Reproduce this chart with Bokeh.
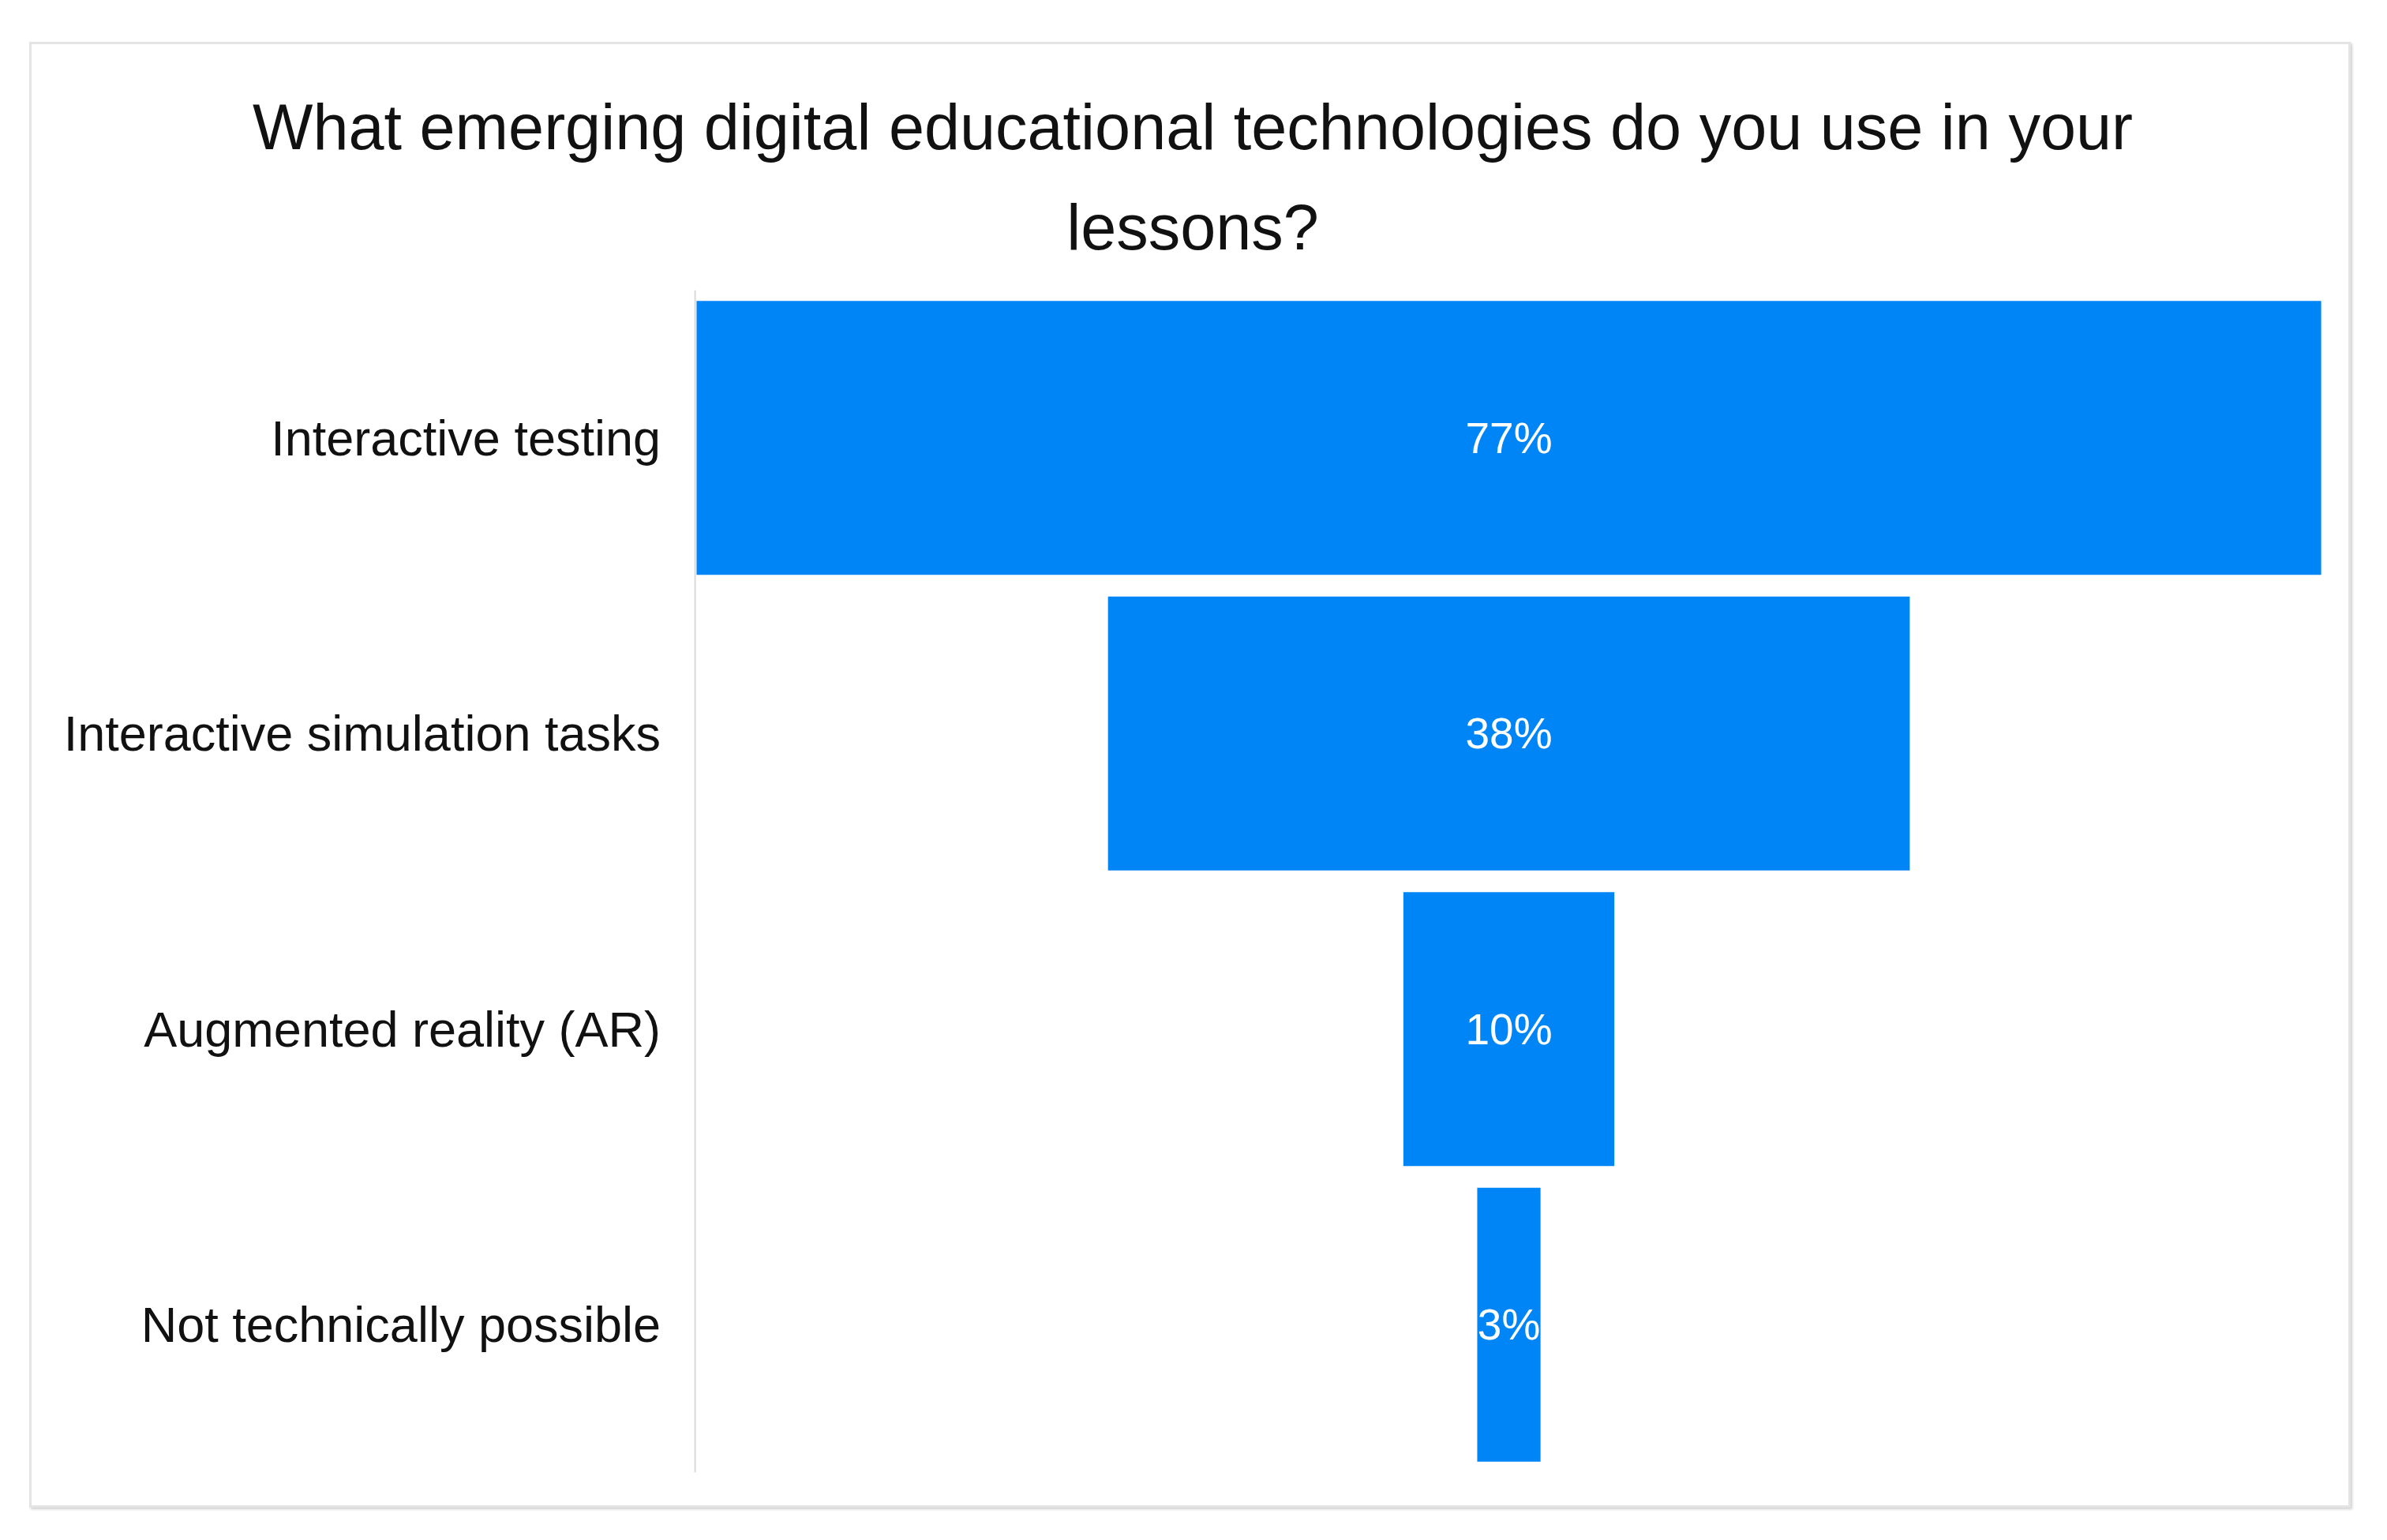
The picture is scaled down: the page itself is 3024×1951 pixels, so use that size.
from bokeh.plotting import figure
from bokeh.models import Range1d, FactorRange, Title, Span, ColumnDataSource
from bokeh.core.properties import value
from bokeh.embed import file_html
from bokeh.resources import INLINE

# ---- data ----
categories = ["Interactive testing", "Interactive simulation tasks",
              "Augmented reality (AR)", "Not technically possible"]
shares = [77, 38, 10, 3]
share_labels = ["77%", "38%", "10%", "3%"]
title_lines = ["What emerging digital educational technologies do you use in your",
               "lessons?"]

# ---- style ----
FONT = "Liberation Sans"
BAR = "#0085F7"

src = ColumnDataSource(dict(
    cat=categories,
    left=[-v / 2 for v in shares],
    right=[v / 2 for v in shares],
    lab=share_labels,
))

p = figure(width=2941, height=1857, output_backend="svg", toolbar_location=None,
           title=None,
           x_range=Range1d(-70.0, 40.03),
           y_range=FactorRange(factors=categories[::-1], range_padding=0),
           x_axis_location=None, y_axis_location=None,
           min_border_left=0, min_border_right=0,
           min_border_top=311, min_border_bottom=48)
p.margin = (53, 0, 0, 37)
p.styles = {"border": "3px solid #e4e4e4", "box-shadow": "2px 2px 3px #d0d0d0"}
p.outline_line_color = None
p.xgrid.visible = False
p.ygrid.visible = False
p.background_fill_color = "white"
p.border_fill_color = "white"

p.add_layout(Title(text=title_lines[1], align="center", text_font=FONT,
                   text_font_size="81px", text_font_style="normal",
                   standoff=70, text_color="#111111"), "above")
p.add_layout(Title(text=title_lines[0], align="center", text_font=FONT,
                   text_font_size="81px", text_font_style="normal",
                   standoff=0, text_color="#111111"), "above")

p.add_layout(Span(location=-38.57, dimension="height", line_color="#d9d9d9",
                  line_width=2))

p.hbar(y="cat", left="left", right="right", height=0.927, source=src,
       fill_color=BAR, line_color=None)

p.text(x=0, y="cat", text="lab", source=src, text_align="center",
       text_baseline="middle", text_color="white",
       text_font=value(FONT), text_font_size=value("55px"))

p.text(x=-40.2, y="cat", text="cat", source=src, text_align="right",
       text_baseline="middle", text_color="#111111",
       text_font=value(FONT), text_font_size=value("63px"))

open("out.html", "w").write(file_html(p, INLINE))
